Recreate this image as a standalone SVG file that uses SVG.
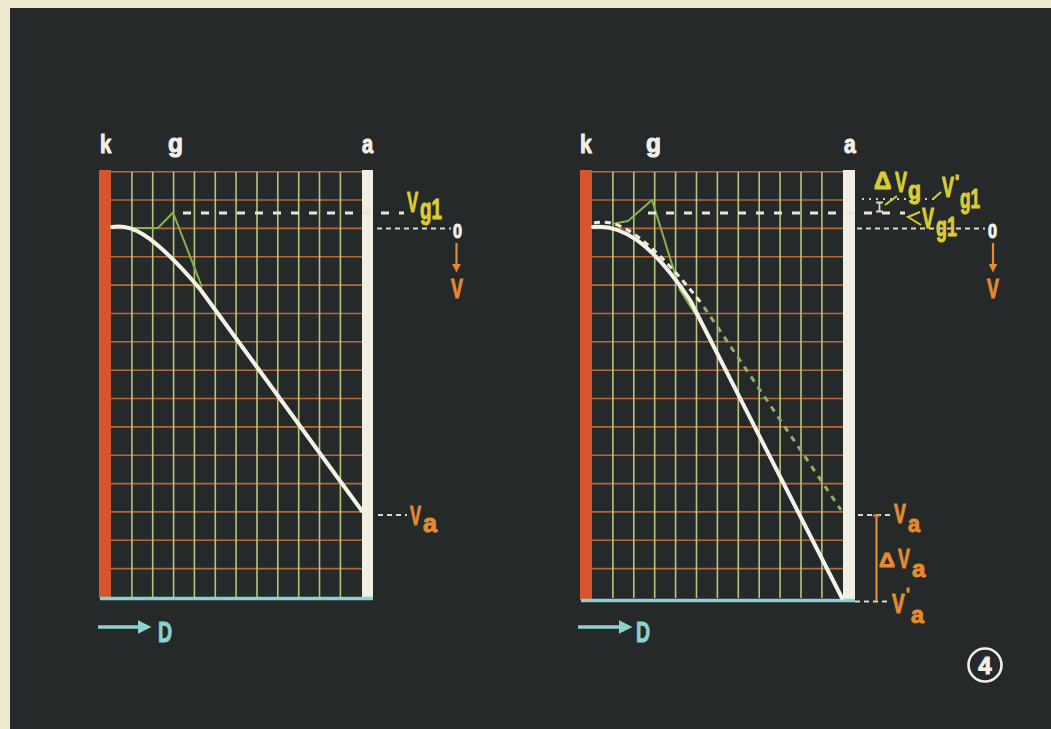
<svg xmlns="http://www.w3.org/2000/svg" width="1051" height="729" viewBox="0 0 1051 729">
<defs>
<style>
.bg{fill:#25292a}
.red{fill:#d6552c}
.wbar{fill:#f1eee2}
.vl{stroke:#b7c47c;stroke-width:1.6;fill:none}
.hl{stroke:#b8673a;stroke-width:1.6;fill:none}
.cy{stroke:#8ad2cf;stroke-width:3.5;fill:none}
.curve{stroke:#f4f1e6;stroke-width:4;fill:none;stroke-linecap:round;stroke-linejoin:round}
.grn{stroke:#86b44c;stroke-width:2;fill:none;stroke-linejoin:round}
.dashW{stroke:#e8e6da;stroke-width:3;fill:none;stroke-dasharray:8 10}
.dashF{stroke:#d8d8d0;stroke-width:2;fill:none;stroke-dasharray:5 4}
.dot{stroke:#c8ccb8;stroke-width:2;fill:none;stroke-dasharray:2 5}
.dcW{stroke:#ecebdc;stroke-width:3;fill:none;stroke-dasharray:6 5}
.dcG{stroke:#8fae68;stroke-width:3;fill:none;stroke-dasharray:6 6}
.t{font-family:"Liberation Sans","DejaVu Sans",sans-serif;font-weight:bold;stroke-width:1;stroke-linejoin:round}
.wh{fill:#f2f0e6;stroke:#f2f0e6}
.ye{fill:#d9cd30;stroke:#d9cd30}
.or{fill:#e48a30;stroke:#e48a30}
.cyt{fill:#8ad2cf;stroke:#8ad2cf}
.ol{stroke:#e48a30;stroke-width:2.2;fill:none}
.yl{stroke:#d9cd30;stroke-width:2;fill:none}
</style>
<marker id="cyhead" markerWidth="4" markerHeight="4" refX="1" refY="2" orient="auto" markerUnits="strokeWidth">
<path d="M0,0 L4,2 L0,4 Z" fill="#8ad2cf"/>
</marker>
<marker id="orhead" markerWidth="4" markerHeight="4" refX="1" refY="2" orient="auto" markerUnits="strokeWidth">
<path d="M0,0 L4,2 L0,4 Z" fill="#e48a30"/>
</marker>
</defs>

<rect x="0" y="0" width="1051" height="729" fill="#efe9cf"/>
<rect x="10" y="8" width="1041" height="721" class="bg"/>

<!-- LEFT PANEL -->
<g id="panel-left">
<g id="grid-left">
<path class="hl" d="M111,171.7H362 M111,200H362 M111,228.4H362 M111,256.8H362 M111,285.1H362 M111,313.5H362 M111,341.8H362 M111,370.2H362 M111,398.5H362 M111,426.9H362 M111,455.2H362 M111,483.6H362 M111,511.9H362 M111,540.3H362 M111,568.6H362"/>
<path class="vl" d="M131.9,172V597 M152.7,172V597 M173.6,172V597 M194.4,172V597 M215.3,172V597 M236.1,172V597 M257,172V597 M277.8,172V597 M298.7,172V597 M319.5,172V597 M340.4,172V597"/>
</g>
<rect id="cathode-left" class="red" x="99" y="170" width="12" height="428"/>
<rect id="anode-left" class="wbar" x="362" y="170" width="11" height="430"/>
<path class="cy" d="M100,598.5H373"/>
<path class="grn" d="M128,228 L158,228 L173,212.5 L202,287"/>
<path class="curve" d="M112,227 C128,224 148,228 200,289 L362,511"/>
<path class="dashW" d="M183,213H404"/>
<path class="dashF" d="M377,228.5H451"/>
<path class="dashF" d="M378,515H407"/>
</g>

<g id="labels-left">
<text class="t wh" transform="translate(100,153) scale(0.82,1)" font-size="25">k</text>
<text class="t wh" transform="translate(168,152) scale(0.98,1)" font-size="25">g</text>
<text class="t wh" transform="translate(362,153) scale(0.8,1)" font-size="25">a</text>
<text class="t ye" transform="translate(407,212) scale(0.56,1)" font-size="30">V</text>
<text class="t ye" transform="translate(420,219) scale(0.65,1)" font-size="29">g1</text>
<text class="t wh" transform="translate(453,238) scale(0.81,1)" font-size="20">0</text>
<path class="ol" d="M456.5,243V266" marker-end="url(#orhead)"/>
<text class="t or" transform="translate(451,298) scale(0.64,1)" font-size="28">V</text>
<text class="t or" transform="translate(410,525) scale(0.59,1)" font-size="28">V</text>
<text class="t or" transform="translate(423,532) scale(0.97,1)" font-size="26">a</text>
<path class="cy" d="M98,627H141" marker-end="url(#cyhead)"/>
<text class="t cyt" transform="translate(158,642) scale(0.65,1)" font-size="30">D</text>
</g>

<!-- RIGHT PANEL -->
<g id="panel-right">
<g id="grid-right">
<path class="hl" d="M592,171.7H843 M592,200H843 M592,228.4H843 M592,256.8H843 M592,285.1H843 M592,313.5H843 M592,341.8H843 M592,370.2H843 M592,398.5H843 M592,426.9H843 M592,455.2H843 M592,483.6H843 M592,511.9H843 M592,540.3H843 M592,568.6H843"/>
<path class="vl" d="M612.9,172V598 M633.8,172V598 M654.7,172V598 M675.6,172V598 M696.5,172V598 M717.4,172V598 M738.3,172V598 M759.2,172V598 M780.1,172V598 M801,172V598 M821.9,172V598"/>
</g>
<rect id="cathode-right" class="red" x="580" y="170" width="12" height="430"/>
<rect id="anode-right" class="wbar" x="843" y="170" width="12" height="432"/>
<path class="cy" d="M581,600.5H855"/>
<path class="grn" d="M612,224 L628,221 L652,200 L680,290 L712,340"/>
<path class="dcW" d="M594,223 C614,219 640,226 702,304"/>
<path class="dcG" d="M704,307 L841,510"/>
<path class="curve" d="M593,227 C620,224 650,240 690,300 L842,598"/>
<path class="dashW" d="M648,213H905"/>
<path class="dot" d="M862,199H936"/>
<path class="dashF" d="M857,228.5H985"/>
<path class="dashF" d="M858,515H892"/>
<path class="dashF" d="M855,601.5H890"/>
</g>

<g id="labels-right">
<text class="t wh" transform="translate(580,153) scale(0.85,1)" font-size="25">k</text>
<text class="t wh" transform="translate(646,152) scale(0.98,1)" font-size="25">g</text>
<text class="t wh" transform="translate(844,153) scale(0.85,1)" font-size="25">a</text>
<text class="t ye" transform="translate(874,189) scale(1.05,1)" font-size="23">Δ</text>
<text class="t ye" transform="translate(895,192) scale(0.6,1)" font-size="30">V</text>
<text class="t ye" transform="translate(908,199) scale(0.82,1)" font-size="26">g</text>
<path d="M876,202.5h7 M879.5,202.5v9 M876,211.5h7" stroke="#dcdcb0" stroke-width="1.8" fill="none"/>
<path class="yl" d="M885,205 L897,196"/>
<path class="yl" d="M933,199 L941,192"/>
<text class="t ye" transform="translate(942,197) scale(0.6,1)" font-size="30">V</text>
<text class="t ye" transform="translate(955,188)" font-size="18">'</text>
<text class="t ye" transform="translate(960,208) scale(0.62,1)" font-size="28">g1</text>
<path class="yl" d="M920,212 L908,217 L921,225"/>
<text class="t ye" transform="translate(922,228) scale(0.6,1)" font-size="30">V</text>
<text class="t ye" transform="translate(936,236) scale(0.64,1)" font-size="28">g1</text>
<text class="t wh" transform="translate(988,238) scale(0.81,1)" font-size="20">0</text>
<path class="ol" d="M993,243V266" marker-end="url(#orhead)"/>
<text class="t or" transform="translate(987,298) scale(0.64,1)" font-size="28">V</text>
<text class="t or" transform="translate(894,523) scale(0.64,1)" font-size="28">V</text>
<text class="t or" transform="translate(908,532) scale(0.9,1)" font-size="24">a</text>
<path class="ol" d="M876.5,515V601 M873,515.5h7"/>
<text class="t or" transform="translate(879,567) scale(1.05,1)" font-size="21">Δ</text>
<text class="t or" transform="translate(898,568) scale(0.64,1)" font-size="28">V</text>
<text class="t or" transform="translate(912,577) scale(1,1)" font-size="24">a</text>
<text class="t or" transform="translate(892,613) scale(0.68,1)" font-size="28">V</text>
<text class="t or" transform="translate(906,600)" font-size="16">'</text>
<text class="t or" transform="translate(911,623) scale(0.97,1)" font-size="24">a</text>
<path class="cy" d="M578,627H622" marker-end="url(#cyhead)"/>
<text class="t cyt" transform="translate(636,642) scale(0.65,1)" font-size="30">D</text>
</g>

<g id="figure-number">
<circle cx="985" cy="665" r="16.5" fill="none" stroke="#f2f0e6" stroke-width="2.6"/>
<text class="t wh" x="985" y="674" font-size="24" text-anchor="middle">4</text>
</g>
</svg>
